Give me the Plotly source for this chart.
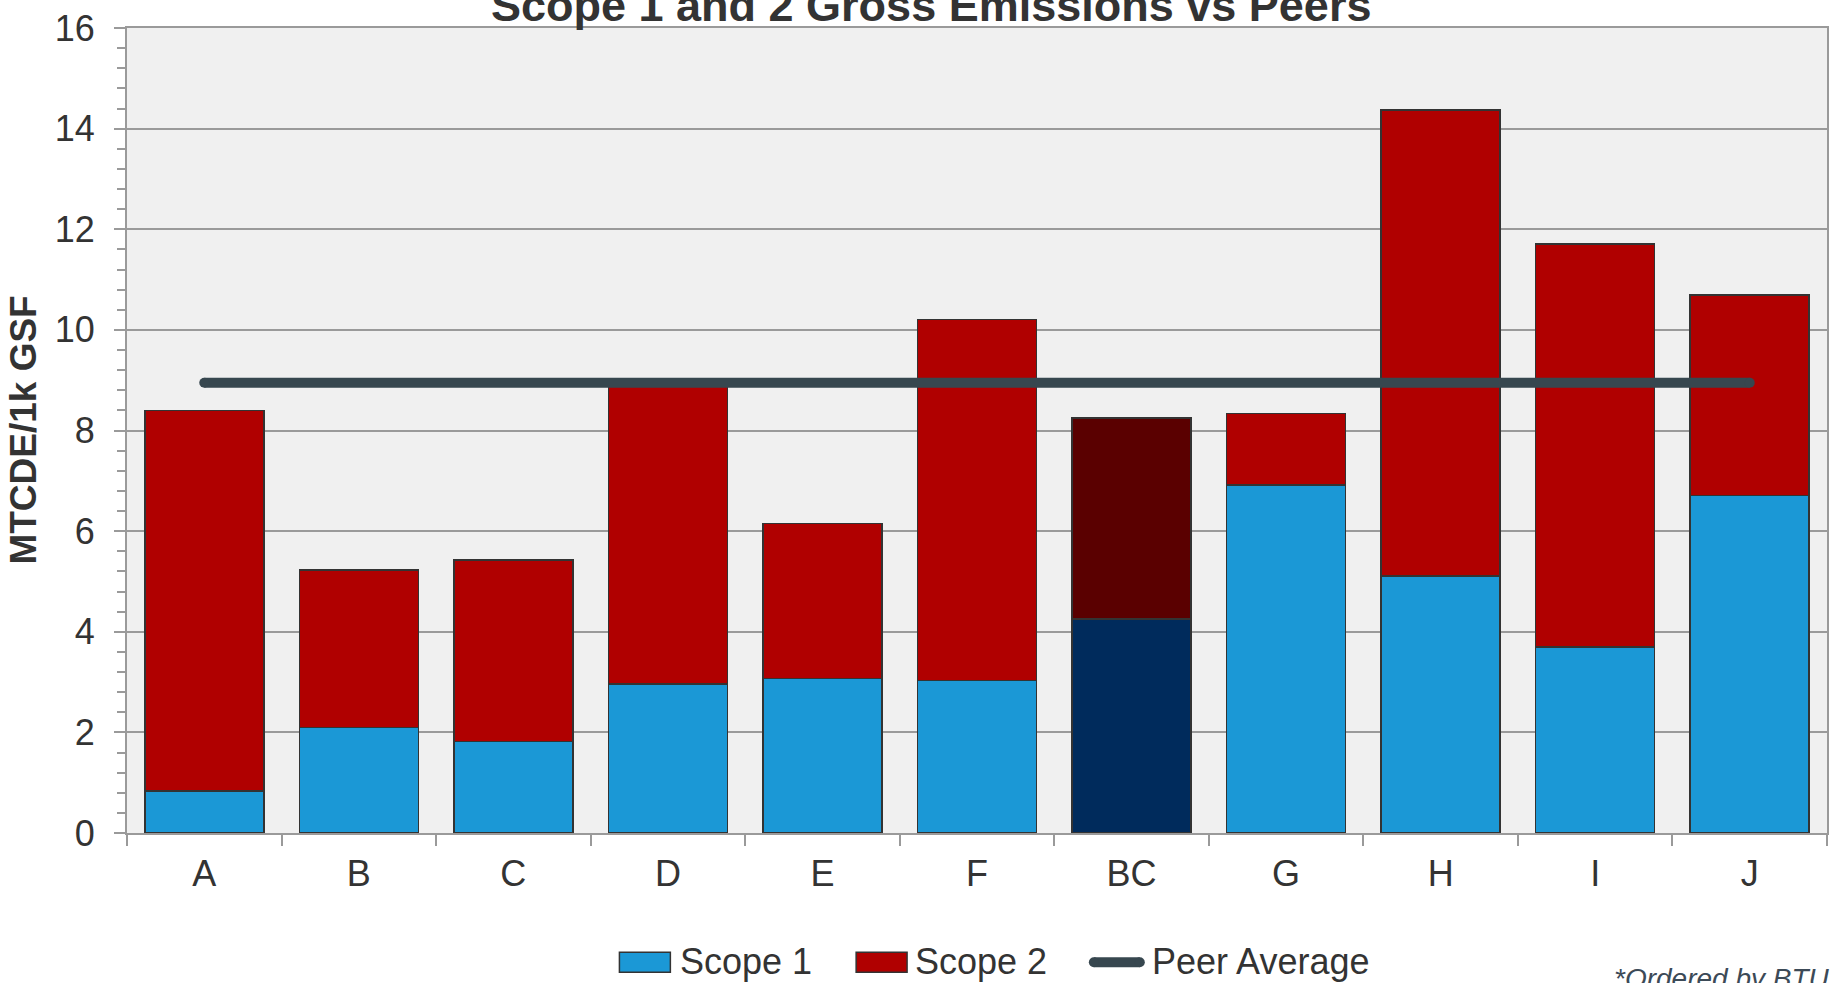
import plotly.graph_objects as go

# Emissions intensity by building (MTCDE per 1k gross square feet)
categories = ["A", "B", "C", "D", "E", "F", "BC", "G", "H", "I", "J"]
scope1 = [0.83, 2.10, 1.82, 2.96, 3.07, 3.03, 4.25, 6.92, 5.11, 3.70, 6.71]
scope2 = [7.57, 3.13, 3.61, 5.94, 3.08, 7.18, 4.00, 1.42, 9.26, 8.01, 3.98]
peer_average = 8.95
highlight = "BC"

y_ticks = [0, 2, 4, 6, 8, 10, 12, 14, 16]

FONT = "Liberation Sans, Arial, sans-serif"
TEXT = "#333333"
AXIS = "#9a9a9a"
S1 = "#1b98d6"
S2 = "#b00000"
S1_HI = "#002b5c"
S2_HI = "#5a0000"
LINE = "#37474f"

W, H = 1837, 983
L, R, T, B = 127, 8, 23, 150
PW, PH = W - L - R, H - T - B


def px(x):
    return (x - L) / PW


def py(y):
    return (H - B - y) / PH


s1_colors = [S1_HI if c == highlight else S1 for c in categories]
s2_colors = [S2_HI if c == highlight else S2 for c in categories]

fig = go.Figure()
fig.add_trace(go.Bar(
    x=categories, y=scope1, name="Scope 1",
    marker=dict(color=s1_colors, line=dict(color="#333333", width=1.5)),
))
fig.add_trace(go.Bar(
    x=categories, y=scope2, name="Scope 2",
    marker=dict(color=s2_colors, line=dict(color="#333333", width=1.5)),
))
fig.add_trace(go.Scatter(
    x=[categories[0], categories[-1]], y=[peer_average, peer_average],
    name="Peer Average", mode="lines+markers",
    line=dict(color=LINE, width=10),
    marker=dict(color=LINE, size=10, line=dict(width=0)),
))

fig.update_layout(
    width=W, height=H,
    margin=dict(l=L, r=R, t=T, b=B, pad=0),
    barmode="stack", bargap=0.23,
    plot_bgcolor="#f0f0f0", paper_bgcolor="white",
    showlegend=False,
    font=dict(family=FONT, size=36, color=TEXT),
)

fig.update_xaxes(
    type="category", range=[-0.5, len(categories) - 0.5], tickson="boundaries",
    ticks="outside", ticklen=11, tickwidth=1.5, tickcolor=AXIS,
    showline=True, linecolor=AXIS, linewidth=2, mirror=True,
    showgrid=False, ticklabelstandoff=8,
    tickfont=dict(size=36, color=TEXT),
)
fig.update_yaxes(
    range=[0, 16], tickvals=y_ticks,
    ticks="outside", ticklen=11, tickwidth=1.5, tickcolor=AXIS,
    showline=True, linecolor=AXIS, linewidth=2, mirror=True,
    showgrid=True, gridcolor=AXIS, gridwidth=1.5,
    zeroline=False, ticklabelstandoff=12,
    tickfont=dict(size=36, color=TEXT),
    minor=dict(dtick=0.4, ticks="outside", ticklen=8, tickwidth=1.5,
               tickcolor=AXIS, showgrid=False),
)

annotations = [
    # chart title
    dict(text="Scope 1 and 2 Gross Emissions vs Peers", x=px(932), y=py(28),
         xref="paper", yref="paper", xanchor="center", yanchor="bottom",
         showarrow=False, font=dict(size=45, color=TEXT, family=FONT, weight="bold")),
    # y-axis title
    dict(text="MTCDE/1k GSF", x=px(23), y=0.5, xref="paper", yref="paper",
         xanchor="center", yanchor="middle", textangle=-90, showarrow=False,
         font=dict(size=37, color=TEXT, family=FONT, weight="bold")),
    # footnote
    dict(text="*Ordered by BTU", x=px(1614), y=py(962), xref="paper", yref="paper",
         xanchor="left", yanchor="top", showarrow=False,
         font=dict(size=28, color="#3c4a57", family=FONT, style="italic")),
]

# legend drawn below the chart
legend_items = [
    ("Scope 1", 679),
    ("Scope 2", 914),
    ("Peer Average", 1151),
]
for label, x_left in legend_items:
    annotations.append(dict(text=label, x=px(x_left), y=py(962), xref="paper", yref="paper",
                            xanchor="left", yanchor="middle", showarrow=False,
                            font=dict(size=36, color=TEXT, family=FONT)))

shapes = [
    dict(type="rect", xref="paper", yref="paper", x0=px(620), x1=px(671), y0=py(973), y1=py(953),
         fillcolor=S1, line=dict(color="#333333", width=1.5)),
    dict(type="rect", xref="paper", yref="paper", x0=px(857), x1=px(908), y0=py(973), y1=py(953),
         fillcolor=S2, line=dict(color="#333333", width=1.5)),
    dict(type="line", xref="paper", yref="paper", x0=px(1095), x1=px(1141), y0=py(963), y1=py(963),
         line=dict(color=LINE, width=10)),
    dict(type="circle", xref="paper", yref="paper", x0=px(1090), x1=px(1100), y0=py(968), y1=py(958),
         fillcolor=LINE, line=dict(width=0)),
    dict(type="circle", xref="paper", yref="paper", x0=px(1136), x1=px(1146), y0=py(968), y1=py(958),
         fillcolor=LINE, line=dict(width=0)),
]

fig.update_layout(annotations=annotations, shapes=shapes)

fig.write_html("out.html")
